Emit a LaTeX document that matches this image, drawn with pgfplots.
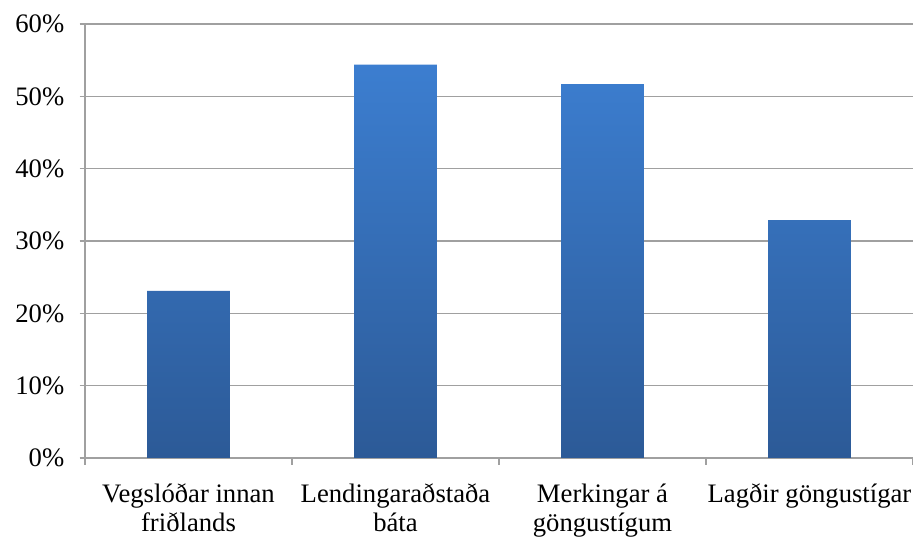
\documentclass[border=0pt]{standalone}
\usepackage{fontspec}
\setmainfont{Liberation Serif}
\usepackage{pgfplots}
\pgfplotsset{compat=1.18}
\definecolor{bartop}{HTML}{3C7ED0}
\definecolor{barbot}{HTML}{2C5A97}
\definecolor{gridgray}{HTML}{A0A0A0}
\begin{document}
\begin{tikzpicture}
\begin{axis}[
    scale only axis, width=621pt, height=325.5pt,
    xmin=0.5, xmax=4.5, ymin=0, ymax=60,
    axis lines*=left,
    axis line style={gridgray, line width=0.9pt},
    ybar, bar width=0.4,
    ytick={0,10,...,60},
    yticklabels={0\%,10\%,20\%,30\%,40\%,50\%,60\%},
    xtick={1,2,3,4},
    xticklabels={{Vegslóðar innan\\friðlands},{Lendingaraðstaða\\báta},{Merkingar á\\göngustígum},{Lagðir göngustígar}},
    minor xtick={0.5,1.5,2.5,3.5,4.5},
    ymajorgrids, grid style={gridgray, line width=0.9pt},
    tick align=outside, major tick length=4pt, minor tick length=5pt,
    tick style={gridgray, line width=0.9pt},
    major x tick style={draw=none},
    tick label style={font=\fontsize{20}{21.5}\selectfont},
    x tick label style={align=center, yshift=-12pt},
    y tick label style={xshift=-8pt},
]
\addplot[draw=none, shade, top color=bartop, bottom color=barbot]
  coordinates {(1,23.1) (2,54.4) (3,51.7) (4,32.9)};
\end{axis}
\pgfresetboundingbox
\path ([xshift=-63.75pt,yshift=-60pt]current axis.south west) rectangle ([yshift=18pt]current axis.north east);
\end{tikzpicture}
\end{document}
